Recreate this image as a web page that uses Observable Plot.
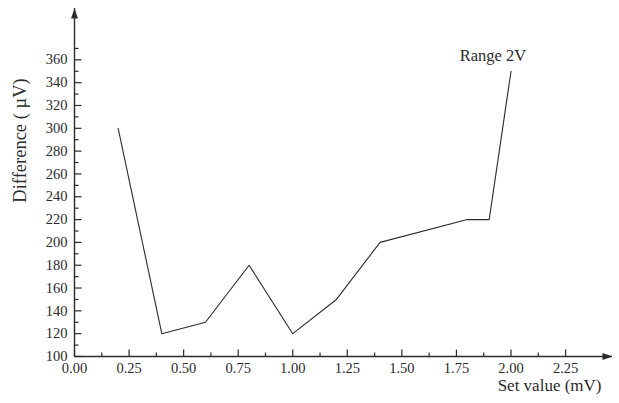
<!DOCTYPE html>
<html>
<head>
<meta charset="utf-8">
<script src="https://cdn.jsdelivr.net/npm/d3@7"></script>
<script src="https://cdn.jsdelivr.net/npm/@observablehq/plot@0.6"></script>
<style>
  body { margin: 0; background: #ffffff; }
  #chart svg { display: block; }
</style>
</head>
<body>
<div id="chart"></div>
<script>
// Measured difference against the set value, 2 V range
const setValues   = [0.2, 0.4, 0.6, 0.8, 1.0, 1.2, 1.4, 1.8, 1.9, 2.0];
const differences = [300, 120, 130, 180, 120, 150, 200, 220, 220, 350];

// Axis ticks
const xTicks      = [0, 0.25, 0.5, 0.75, 1.0, 1.25, 1.5, 1.75, 2.0, 2.25];
const xMinorTicks = [0.125, 0.375, 0.625, 0.875, 1.125, 1.375, 1.625, 1.875, 2.125];
const yTicks      = [100, 120, 140, 160, 180, 200, 220, 240, 260, 280, 300, 320, 340, 360];
const yMinorTicks = [110, 130, 150, 170, 190, 210, 230, 250, 270, 290, 310, 330, 350, 370];

// Axis extents (the axis lines run past the last tick and end in arrowheads)
const xExtent = [0, 2.465];
const yExtent = [100, 405];

const seriesLabel = "Range 2V";
const xTitle = "Set value (mV)";
const yTitle = "Difference ( \u00B5V)";

const ink = "#2b2b2b";
const font = "'Liberation Serif', 'Times New Roman', serif";

// Custom symbols: a tick stroke pointing up from its anchor, and a filled
// arrowhead whose tip sits on its anchor.
const tickSymbol = (len) => ({
  draw(ctx) { ctx.moveTo(0, 0); ctx.lineTo(0, -len); }
});
const headSymbol = {
  draw(ctx) { ctx.moveTo(0, 0); ctx.lineTo(-3.5, 10); ctx.lineTo(3.5, 10); ctx.closePath(); }
};

const data = setValues.map((x, i) => ({x, y: differences[i]}));
const last = data[data.length - 1];

const chart = Plot.plot({
  width: 619,
  height: 403,
  marginLeft: 74,
  marginRight: 7,
  marginTop: 8,
  marginBottom: 47,
  style: {fontFamily: font, background: "#ffffff", color: ink},
  x: {domain: xExtent, axis: null},
  y: {domain: yExtent, axis: null},
  marks: [
    // axis lines
    Plot.ruleY([yExtent[0]], {x1: xExtent[0], x2: xExtent[1], stroke: ink, strokeWidth: 1.4}),
    Plot.ruleX([xExtent[0]], {y1: yExtent[0], y2: yExtent[1], stroke: ink, strokeWidth: 1.4}),
    // arrowheads
    Plot.dot([yExtent[1]], {x: xExtent[0], y: d => d, symbol: headSymbol, fill: ink, stroke: "none"}),
    Plot.dot([xExtent[1]], {x: d => d, y: yExtent[0], symbol: headSymbol, rotate: 90, fill: ink, stroke: "none"}),
    // inward ticks on the x axis
    Plot.dot(xTicks, {x: d => d, y: yExtent[0], symbol: tickSymbol(7), stroke: ink, strokeWidth: 1.2, fill: "none"}),
    Plot.dot(xMinorTicks, {x: d => d, y: yExtent[0], symbol: tickSymbol(4), stroke: ink, strokeWidth: 1.2, fill: "none"}),
    // inward ticks on the y axis
    Plot.dot(yTicks, {x: xExtent[0], y: d => d, symbol: tickSymbol(7), rotate: 90, stroke: ink, strokeWidth: 1.2, fill: "none"}),
    Plot.dot(yMinorTicks, {x: xExtent[0], y: d => d, symbol: tickSymbol(4), rotate: 90, stroke: ink, strokeWidth: 1.2, fill: "none"}),
    // tick labels
    Plot.text(xTicks, {x: d => d, y: yExtent[0], dy: 12, text: d => d.toFixed(2), fontSize: 14.5, fill: ink}),
    Plot.text(yTicks, {x: xExtent[0], y: d => d, dx: -7, textAnchor: "end", text: d => String(d), fontSize: 14.5, fill: ink}),
    // data line
    Plot.line(data, {x: "x", y: "y", stroke: ink, strokeWidth: 1.1}),
    // series label next to the last point
    Plot.text([last], {x: "x", y: "y", dx: -18, dy: -16, text: () => seriesLabel, fontSize: 16.5, fill: ink}),
    // axis titles
    Plot.text([xTitle], {frameAnchor: "bottom-right", textAnchor: "end", dx: -11, dy: 34, text: d => d, fontSize: 17, fill: ink}),
    Plot.text([yTitle], {frameAnchor: "left", textAnchor: "middle", dx: -54, dy: -42, rotate: -90, text: d => d, fontSize: 18.5, fill: ink})
  ]
});

document.getElementById("chart").appendChild(chart);
</script>
</body>
</html>
